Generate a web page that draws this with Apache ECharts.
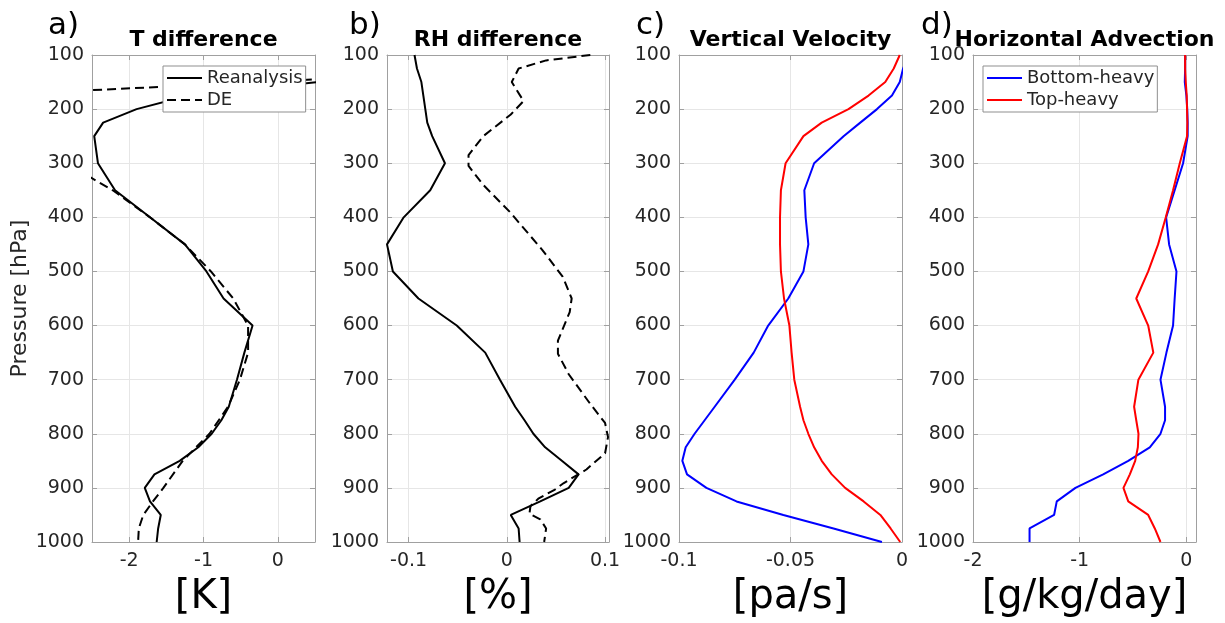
<!DOCTYPE html>
<html>
<head>
<meta charset="utf-8">
<script src="https://cdn.jsdelivr.net/npm/echarts@6/dist/echarts.min.js"></script>
<style>
html,body{margin:0;padding:0;background:#fff;}
#main{width:1225px;height:623px;}
</style>
</head>
<body>
<div id="main"></div>
<script>
// pressure levels (hPa) used by the reanalysis / composite profiles
var levels = [100,125,150,175,200,225,250,300,350,400,450,500,550,600,650,700,750,775,800,825,850,875,900,925,950,975,1000];
var pressureTicks = [100,200,300,400,500,600,700,800,900,1000];

// a) T difference [K]
var tReanalysis = [1.2,0.9,0.55,-1.2,-1.9,-2.35,-2.47,-2.42,-2.19,-1.72,-1.25,-0.96,-0.73,-0.34,-0.45,-0.55,-0.66,-0.76,-0.89,-1.07,-1.32,-1.66,-1.79,-1.72,-1.575,-1.61,-1.63];
var tDELevels = [100,125,150,175,200,250,300,350,400,450,500,550,600,650,700,750,800,850,900,925,950,975,1000];
var tDE = [4.0,3.5,-0.25,-4.0,-4.5,-4.0,-2.85,-2.22,-1.72,-1.25,-0.9,-0.6,-0.4,-0.4,-0.51,-0.67,-0.92,-1.28,-1.54,-1.68,-1.81,-1.87,-1.88];

// b) RH difference [%]
var rhReanalysis = [-0.094,-0.0915,-0.087,-0.085,-0.083,-0.081,-0.076,-0.063,-0.078,-0.105,-0.122,-0.116,-0.09,-0.051,-0.022,-0.007,0.0085,0.018,0.027,0.039,0.056,0.073,0.063,0.034,0.004,0.012,0.013];
var rhDELevels = [100,110,125,150,185,210,250,285,305,340,390,460,510,550,575,628,652,690,745,780,806,836,866,891,903,920,934,948,958,975,1000];
var rhDE = [0.085,0.04,0.012,0.005,0.017,0.004,-0.024,-0.039,-0.039,-0.024,0.003,0.036,0.057,0.066,0.064,0.052,0.052,0.063,0.085,0.1,0.103,0.1,0.081,0.058,0.049,0.032,0.024,0.023,0.034,0.04,0.038];

// c) Vertical velocity [pa/s]
var omegaBottom = [0.003,0.0005,-0.001,-0.0045,-0.0112,-0.0187,-0.0262,-0.0394,-0.0438,-0.0432,-0.042,-0.0442,-0.051,-0.06,-0.0665,-0.075,-0.084,-0.0885,-0.093,-0.097,-0.0985,-0.0964,-0.0877,-0.0742,-0.0532,-0.0307,-0.009];
var omegaTop = [-0.001,-0.0037,-0.0075,-0.015,-0.024,-0.036,-0.0442,-0.0522,-0.0543,-0.0547,-0.0547,-0.0543,-0.0529,-0.0505,-0.0495,-0.0483,-0.0457,-0.0442,-0.042,-0.0394,-0.036,-0.0315,-0.0255,-0.0172,-0.0097,-0.0051,-0.0008];

// d) Horizontal advection [g/kg/day]
var advBottom = [-0.012,-0.012,-0.015,0.0,0.008,0.012,0.012,-0.031,-0.11,-0.19,-0.162,-0.093,-0.11,-0.125,-0.187,-0.243,-0.2,-0.2,-0.243,-0.343,-0.545,-0.78,-1.04,-1.215,-1.24,-1.47,-1.47];
var advTop = [-0.012,-0.012,-0.006,0.003,0.006,0.009,0.006,-0.062,-0.125,-0.193,-0.265,-0.358,-0.47,-0.358,-0.31,-0.45,-0.49,-0.47,-0.449,-0.455,-0.48,-0.53,-0.59,-0.545,-0.358,-0.296,-0.243];

var xTicksA = [-2,-1,0];
var xTicksB = [-0.1,0,0.1];
var xTicksC = [-0.1,-0.05,0];
var xTicksD = [-2,-1,0];

var myChart = echarts.init(document.getElementById('main'));
var font = 'DejaVu Sans';
var boxColor = '#a0a0a0';
var gridColor = '#e6e6e6';
var textColor = '#262626';

function pairs(vals, pres) {
	return vals.map(function (v, i) { return [v, pres[i]]; });
}

var panels = [
	{letter: 'a)', title: 'T difference', unit: '[K]', min: -2.5, max: 0.5, ticks: xTicksA, left: 92, width: 223, letterX: 48},
	{letter: 'b)', title: 'RH difference', unit: '[%]', min: -0.122, max: 0.104, ticks: xTicksB, left: 387, width: 222, letterX: 349},
	{letter: 'c)', title: 'Vertical Velocity', unit: '[pa/s]', min: -0.1, max: 0, ticks: xTicksC, left: 679, width: 223, letterX: 636},
	{letter: 'd)', title: 'Horizontal Advection', unit: '[g/kg/day]', min: -2, max: 0.09, ticks: xTicksD, left: 973, width: 223, letterX: 921}
];
var plotTop = 55, plotHeight = 491;

var grids = [], xAxes = [], yAxes = [], graphics = [];
panels.forEach(function (p, k) {
	grids.push({left: p.left, top: plotTop, width: p.width, height: plotHeight, show: false});
	var tickStyle = {show: true, inside: true, length: 5, customValues: p.ticks, lineStyle: {color: boxColor}};
	xAxes.push({
		type: 'value', gridIndex: k, position: 'bottom', min: p.min, max: p.max,
		name: p.unit, nameLocation: 'middle', nameGap: 36,
		nameTextStyle: {fontSize: 40, color: '#000', fontFamily: font},
		axisLine: {show: true, onZero: false, lineStyle: {color: boxColor, width: 1}},
		axisTick: tickStyle,
		axisLabel: {customValues: p.ticks, fontSize: 19, color: textColor, fontFamily: font, margin: 10,
			formatter: function (v) { return String(v); }},
		splitLine: {show: true, lineStyle: {color: gridColor, width: 1}}
	});
	xAxes.push({
		type: 'value', gridIndex: k, position: 'top', min: p.min, max: p.max,
		axisLine: {show: true, onZero: false, lineStyle: {color: boxColor, width: 1}},
		axisTick: tickStyle,
		axisLabel: {show: false},
		splitLine: {show: false}
	});
	yAxes.push({
		type: 'value', gridIndex: k, position: 'left', inverse: true, min: 100, max: 1000, interval: 100,
		name: k === 0 ? 'Pressure [hPa]' : '', nameLocation: 'middle', nameGap: 61, nameRotate: 90,
		nameTextStyle: {fontSize: 22, color: textColor, fontFamily: font},
		axisLine: {show: true, onZero: false, lineStyle: {color: boxColor, width: 1}},
		axisTick: {show: true, inside: true, length: 5, lineStyle: {color: boxColor}},
		axisLabel: {fontSize: 19, color: textColor, fontFamily: font, margin: 8,
			formatter: function (v) { return String(v); }},
		splitLine: {show: true, lineStyle: {color: gridColor, width: 1}}
	});
	yAxes.push({
		type: 'value', gridIndex: k, position: 'right', inverse: true, min: 100, max: 1000, interval: 100,
		axisLine: {show: true, onZero: false, lineStyle: {color: boxColor, width: 1}},
		axisTick: {show: true, inside: true, length: 5, lineStyle: {color: boxColor}},
		axisLabel: {show: false},
		splitLine: {show: false}
	});
	graphics.push({
		type: 'text', x: p.left + p.width / 2, y: 40, z: 10,
		style: {text: p.title, font: 'bold 22px "DejaVu Sans"', fill: '#000',
			align: 'center', verticalAlign: 'middle', textAlign: 'center', textVerticalAlign: 'middle'}
	});
	graphics.push({
		type: 'text', x: p.letterX, y: 26, z: 10,
		style: {text: p.letter, font: '31px "DejaVu Sans"', fill: '#000',
			align: 'left', verticalAlign: 'middle', textAlign: 'left', textVerticalAlign: 'middle'}
	});
});

function profile(name, vals, pres, k, color, dashed) {
	return {
		name: name, type: 'line', xAxisIndex: 2 * k, yAxisIndex: 2 * k,
		data: pairs(vals, pres), symbol: 'none', silent: true, animation: false,
		lineStyle: {color: color, width: 2, type: dashed ? [9, 5] : 'solid'},
		itemStyle: {color: color}
	};
}

var legendStyle = {
	orient: 'vertical', itemWidth: 35, itemHeight: 14, itemGap: 2, padding: [2, 3, 2, 3],
	borderColor: '#8f8f8f', borderWidth: 1, backgroundColor: '#fff', selectedMode: false,
	itemStyle: {opacity: 0},
	textStyle: {fontSize: 18, color: textColor, fontFamily: font, lineHeight: 20}
};

myChart.setOption({
	backgroundColor: '#fff',
	animation: false,
	grid: grids,
	xAxis: xAxes,
	yAxis: yAxes,
	graphic: graphics,
	legend: [
		Object.assign({left: 163, top: 66, data: ['Reanalysis', 'DE']}, legendStyle),
		Object.assign({left: 983, top: 66, data: ['Bottom-heavy', 'Top-heavy']}, legendStyle)
	],
	series: [
		profile('Reanalysis', tReanalysis, levels, 0, '#000', false),
		profile('DE', tDE, tDELevels, 0, '#000', true),
		profile('Reanalysis', rhReanalysis, levels, 1, '#000', false),
		profile('DE', rhDE, rhDELevels, 1, '#000', true),
		profile('Bottom-heavy', omegaBottom, levels, 2, '#0000ff', false),
		profile('Top-heavy', omegaTop, levels, 2, '#ff0000', false),
		profile('Bottom-heavy', advBottom, levels, 3, '#0000ff', false),
		profile('Top-heavy', advTop, levels, 3, '#ff0000', false)
	]
});
</script>
</body>
</html>
